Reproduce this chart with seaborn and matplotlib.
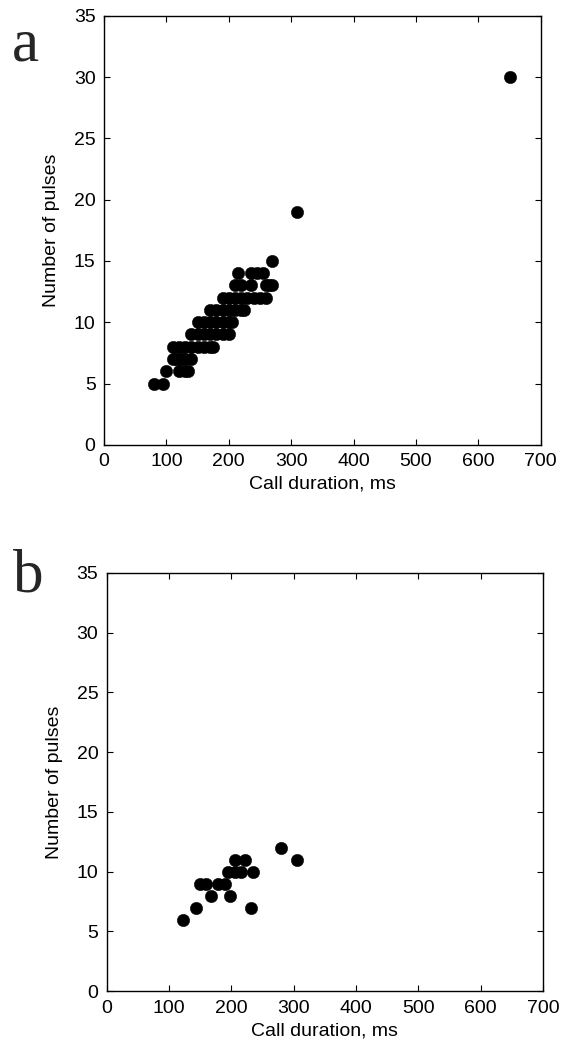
import matplotlib
matplotlib.use("Agg")
import matplotlib.pyplot as plt
import seaborn as sns
import pandas as pd

# panel a: call duration (ms) vs number of pulses
dur_a = [80, 95,
         100, 120, 130, 135,
         110, 115, 120, 125, 130, 140,
         110, 120, 130, 140, 150, 160, 170, 175,
         140, 150, 160, 170, 180, 190, 200,
         150, 160, 170, 180, 190, 200, 205,
         170, 180, 190, 200, 210, 220, 225,
         190, 200, 210, 220, 230, 240, 250, 260,
         210, 220, 235, 260, 265, 270,
         215, 235, 245, 255,
         270, 310, 650]
pulses_a = [5, 5,
            6, 6, 6, 6,
            7, 7, 7, 7, 7, 7,
            8, 8, 8, 8, 8, 8, 8, 8,
            9, 9, 9, 9, 9, 9, 9,
            10, 10, 10, 10, 10, 10, 10,
            11, 11, 11, 11, 11, 11, 11,
            12, 12, 12, 12, 12, 12, 12, 12,
            13, 13, 13, 13, 13, 13,
            14, 14, 14, 14,
            15, 19, 30]

# panel b
dur_b = [122, 143, 232, 168, 198, 150, 160, 178, 190,
         195, 205, 215, 235, 205, 222, 280, 305]
pulses_b = [6, 7, 7, 8, 8, 9, 9, 9, 9,
            10, 10, 10, 10, 11, 11, 12, 11]

x_ticks = [0, 100, 200, 300, 400, 500, 600, 700]
y_ticks = [0, 5, 10, 15, 20, 25, 30, 35]

sns.set_style("ticks")
plt.rcParams["font.family"] = ["Liberation Sans", "DejaVu Sans"]

fig = plt.figure(figsize=(5.68, 10.59), dpi=100)
ax_a = fig.add_axes([0.183, 0.580, 0.769, 0.405])
ax_b = fig.add_axes([0.188, 0.064, 0.768, 0.395])

panels = [(ax_a, dur_a, pulses_a, "a", 0.044, 0.957),
          (ax_b, dur_b, pulses_b, "b", 0.050, 0.455)]
for ax, dur, pulses, letter, lx, ly in panels:
    df = pd.DataFrame({"Call duration, ms": dur, "Number of pulses": pulses})
    sns.scatterplot(data=df, x="Call duration, ms", y="Number of pulses", ax=ax,
                    color="black", s=80, edgecolor="black", linewidth=0.3)
    ax.set_xlim(0, 700)
    ax.set_ylim(0, 35)
    ax.set_xticks(x_ticks)
    ax.set_yticks(y_ticks)
    ax.tick_params(direction="in", top=True, right=True, length=4, width=0.8,
                   labelsize=14, colors="black", pad=6)
    for sp in ax.spines.values():
        sp.set_visible(True)
        sp.set_linewidth(1.0)
        sp.set_color("black")
    ax.set_xlabel("Call duration, ms", fontsize=14, labelpad=4, color="black")
    ax.set_ylabel("Number of pulses", fontsize=14, labelpad=10, color="black")
    fig.text(lx, ly, letter, fontsize=44, family="Liberation Serif",
             ha="center", va="center")

fig.savefig("out.png", dpi=100, facecolor="white")
